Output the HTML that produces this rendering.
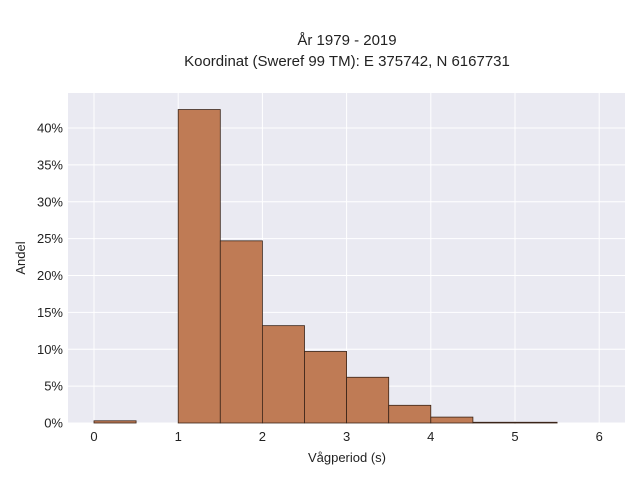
<!DOCTYPE html>
<html><head><meta charset="utf-8"><style>
body{margin:0;background:#fff;}
svg{display:block;font-family:"Liberation Sans",sans-serif;}
</style></head><body>
<svg id="c" width="640" height="480">
<text x="347" y="45" text-anchor="middle" font-size="15" fill="#222">År 1979 - 2019</text>
<text x="347" y="66" text-anchor="middle" font-size="15" fill="#222">Koordinat (Sweref 99 TM): E 375742, N 6167731</text>
<rect x="68" y="93" width="557" height="330" fill="#eaeaf2"/>
<g id="grid"></g><g id="bars"></g><g id="ticks"></g>
<text x="347" y="462" text-anchor="middle" font-size="13" fill="#222">Vågperiod (s)</text>
<text x="25" y="258" text-anchor="middle" font-size="13" fill="#222" transform="rotate(-90 25 258)">Andel</text>
</svg>
<script>
const binStarts=[0,1,1.5,2,2.5,3,3.5,4,4.5,5];
const binWidth=0.5;
const shares=[0.3,42.5,24.7,13.2,9.7,6.2,2.4,0.8,0.1,0.1];
const xTicks=[0,1,2,3,4,5,6];
const yTicks=[0,5,10,15,20,25,30,35,40];
const X=v=>94+v*84.2, Y=v=>423-v*7.375;
const NS="http://www.w3.org/2000/svg";
function mk(t,a,p){const e=document.createElementNS(NS,t);for(const k in a)e.setAttribute(k,a[k]);p.appendChild(e);return e;}
const g=document.getElementById('grid'),b=document.getElementById('bars'),tk=document.getElementById('ticks');
xTicks.forEach(v=>{
 const l=mk('line',{x1:X(v),x2:X(v),y1:93,y2:423,stroke:'#fff','stroke-width':1},g);
 
 
 const t=mk('text',{x:X(v),y:441,'text-anchor':'middle','font-size':13,fill:'#222'},tk);t.textContent=v;
 
 
});
yTicks.forEach(v=>{
 const l=mk('line',{x1:68,x2:625,y1:Y(v),y2:Y(v),stroke:'#fff','stroke-width':1},g);
 
 
 const t=mk('text',{x:63,y:Y(v)+4.5,'text-anchor':'end','font-size':13,fill:'#222'},tk);t.textContent=v+'%';
 
 
});
binStarts.forEach((s,i)=>{
 const r=mk('rect',{x:X(s),y:Y(shares[i]),width:X(s+binWidth)-X(s),height:423-Y(shares[i]),fill:'#bf7b55',stroke:'#3a2418','stroke-width':0.8},b);
 
 
});
</script>
</body></html>
